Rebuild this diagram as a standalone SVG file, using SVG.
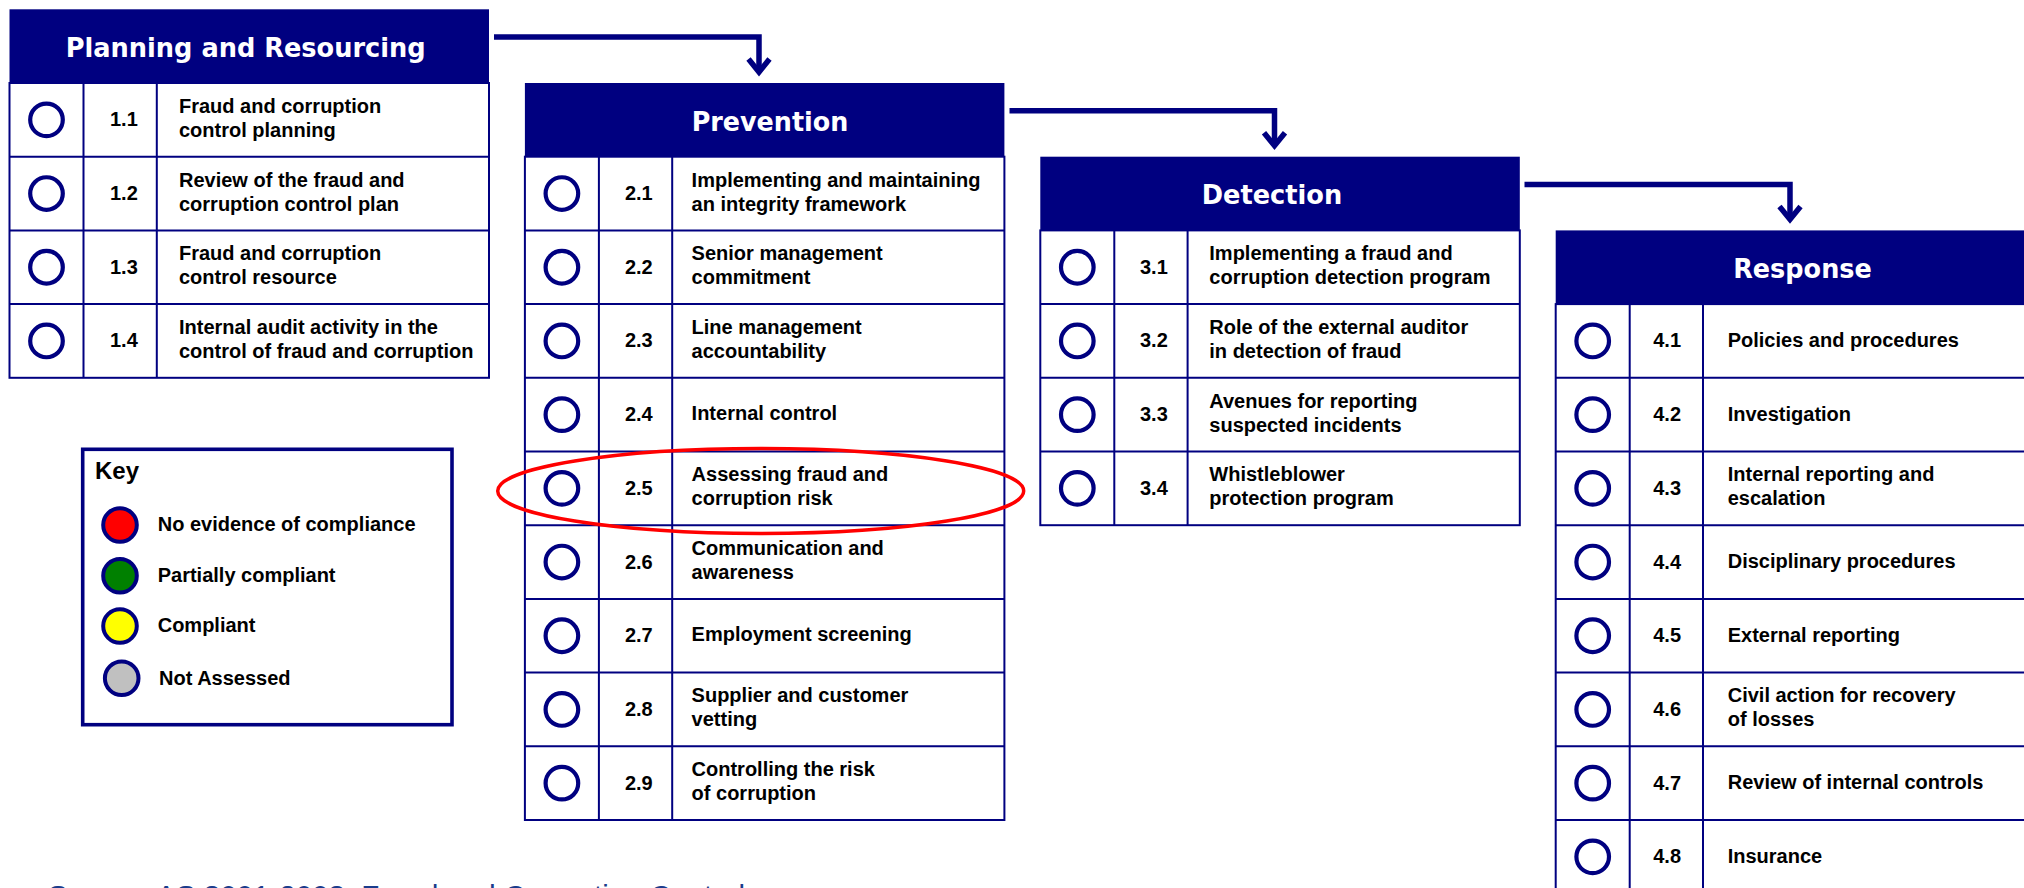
<svg xmlns="http://www.w3.org/2000/svg" width="2024" height="888" viewBox="0 0 2024 888">
  <defs>
    <style>
      .hdr { fill: #000080; }
      .grid { fill: none; stroke: #000080; stroke-width: 2; }
      .dot { fill: none; stroke: #000080; stroke-width: 4.2; }
      .title { font-family: "DejaVu Sans", Verdana, sans-serif; font-weight: bold; font-size: 27px; fill: #ffffff; text-anchor: middle; }
      .num, .lbl { font-family: "Liberation Sans", Arial, sans-serif; font-weight: bold; font-size: 20px; fill: #000000; }
      .keyttl { font-family: "Liberation Sans", Arial, sans-serif; font-weight: bold; font-size: 24px; fill: #000000; }
      .keyframe { fill: #ffffff; stroke: #000080; stroke-width: 3.6; }
      .swatch { stroke: #000080; stroke-width: 4; }
      .flow { fill: none; stroke: #000080; stroke-width: 5.5; }
      .src { font-family: "Liberation Sans", Arial, sans-serif; font-size: 29.5px; fill: #1A3C8C; }
    </style>
    <marker id="chevron" markerUnits="userSpaceOnUse" viewBox="-20 -15 25 30" markerWidth="25" markerHeight="30" refX="0" refY="0" orient="auto" overflow="visible">
      <path d="M-13,-10.5 L0,0 L-13,10.5" fill="none" stroke="#000080" stroke-width="5.5" stroke-linejoin="miter"/>
    </marker>
  </defs>

  <rect x="0" y="0" width="2024" height="888" fill="#ffffff"/>

  <!-- stage 1 -->
  <g id="planning" transform="translate(9.5,9.3)">
    <rect class="hdr" x="0" y="0" width="479.5" height="73.7"/>
    <text class="title" x="236.2" y="47.5" textLength="360" lengthAdjust="spacingAndGlyphs">Planning and Resourcing</text>
    <rect class="grid" x="0" y="73.7" width="479.5" height="294.8"/>
    <path class="grid" d="M0,147.4 H479.5 M0,221.1 H479.5 M0,294.8 H479.5 M74,73.7 V368.5 M147.3,73.7 V368.5"/>
    <circle class="dot" cx="37" cy="110.55" r="16.3"/>
    <circle class="dot" cx="37" cy="184.25" r="16.3"/>
    <circle class="dot" cx="37" cy="257.95" r="16.3"/>
    <circle class="dot" cx="37" cy="331.65" r="16.3"/>
    <text class="num" x="100.5" y="117.05">1.1</text>
    <text class="num" x="100.5" y="190.75">1.2</text>
    <text class="num" x="100.5" y="264.45">1.3</text>
    <text class="num" x="100.5" y="338.15">1.4</text>
    <text class="lbl" x="169.5" y="103.55">Fraud and corruption<tspan x="169.5" dy="24">control planning</tspan></text>
    <text class="lbl" x="169.5" y="177.25">Review of the fraud and<tspan x="169.5" dy="24">corruption control plan</tspan></text>
    <text class="lbl" x="169.5" y="250.95">Fraud and corruption<tspan x="169.5" dy="24">control resource</tspan></text>
    <text class="lbl" x="169.5" y="324.65">Internal audit activity in the<tspan x="169.5" dy="24">control of fraud and corruption</tspan></text>
  </g>

  <!-- stage 2 -->
  <g id="prevention" transform="translate(524.9,83)">
    <rect class="hdr" x="0" y="0" width="479.5" height="73.7"/>
    <text class="title" x="245.1" y="47.5" textLength="156.7" lengthAdjust="spacingAndGlyphs">Prevention</text>
    <rect class="grid" x="0" y="73.7" width="479.5" height="663.3"/>
    <path class="grid" d="M0,147.4 H479.5 M0,221.1 H479.5 M0,294.8 H479.5 M0,368.5 H479.5 M0,442.2 H479.5 M0,515.9 H479.5 M0,589.6 H479.5 M0,663.3 H479.5 M74,73.7 V737 M147.3,73.7 V737"/>
    <circle class="dot" cx="37" cy="110.55" r="16.3"/>
    <circle class="dot" cx="37" cy="184.25" r="16.3"/>
    <circle class="dot" cx="37" cy="257.95" r="16.3"/>
    <circle class="dot" cx="37" cy="331.65" r="16.3"/>
    <circle class="dot" cx="37" cy="405.35" r="16.3"/>
    <circle class="dot" cx="37" cy="479.05" r="16.3"/>
    <circle class="dot" cx="37" cy="552.75" r="16.3"/>
    <circle class="dot" cx="37" cy="626.45" r="16.3"/>
    <circle class="dot" cx="37" cy="700.15" r="16.3"/>
    <text class="num" x="100" y="117.05">2.1</text>
    <text class="num" x="100" y="190.75">2.2</text>
    <text class="num" x="100" y="264.45">2.3</text>
    <text class="num" x="100" y="338.15">2.4</text>
    <text class="num" x="100" y="411.85">2.5</text>
    <text class="num" x="100" y="485.55">2.6</text>
    <text class="num" x="100" y="559.25">2.7</text>
    <text class="num" x="100" y="632.95">2.8</text>
    <text class="num" x="100" y="706.65">2.9</text>
    <text class="lbl" x="166.7" y="103.55">Implementing and maintaining<tspan x="166.7" dy="24">an integrity framework</tspan></text>
    <text class="lbl" x="166.7" y="177.25">Senior management<tspan x="166.7" dy="24">commitment</tspan></text>
    <text class="lbl" x="166.7" y="250.95">Line management<tspan x="166.7" dy="24">accountability</tspan></text>
    <text class="lbl" x="166.7" y="337.15">Internal control</text>
    <text class="lbl" x="166.7" y="398.35">Assessing fraud and<tspan x="166.7" dy="24">corruption risk</tspan></text>
    <text class="lbl" x="166.7" y="472.05">Communication and<tspan x="166.7" dy="24">awareness</tspan></text>
    <text class="lbl" x="166.7" y="558.25">Employment screening</text>
    <text class="lbl" x="166.7" y="619.45">Supplier and customer<tspan x="166.7" dy="24">vetting</tspan></text>
    <text class="lbl" x="166.7" y="693.15">Controlling the risk<tspan x="166.7" dy="24">of corruption</tspan></text>
  </g>

  <!-- stage 3 -->
  <g id="detection" transform="translate(1040.3,156.7)">
    <rect class="hdr" x="0" y="0" width="479.5" height="73.7"/>
    <text class="title" x="231.7" y="47.5" textLength="140.5" lengthAdjust="spacingAndGlyphs">Detection</text>
    <rect class="grid" x="0" y="73.7" width="479.5" height="294.8"/>
    <path class="grid" d="M0,147.4 H479.5 M0,221.1 H479.5 M0,294.8 H479.5 M74,73.7 V368.5 M147.3,73.7 V368.5"/>
    <circle class="dot" cx="37" cy="110.55" r="16.3"/>
    <circle class="dot" cx="37" cy="184.25" r="16.3"/>
    <circle class="dot" cx="37" cy="257.95" r="16.3"/>
    <circle class="dot" cx="37" cy="331.65" r="16.3"/>
    <text class="num" x="99.7" y="117.05">3.1</text>
    <text class="num" x="99.7" y="190.75">3.2</text>
    <text class="num" x="99.7" y="264.45">3.3</text>
    <text class="num" x="99.7" y="338.15">3.4</text>
    <text class="lbl" x="169" y="103.55">Implementing a fraud and<tspan x="169" dy="24">corruption detection program</tspan></text>
    <text class="lbl" x="169" y="177.25">Role of the external auditor<tspan x="169" dy="24">in detection of fraud</tspan></text>
    <text class="lbl" x="169" y="250.95">Avenues for reporting<tspan x="169" dy="24">suspected incidents</tspan></text>
    <text class="lbl" x="169" y="324.65">Whistleblower<tspan x="169" dy="24">protection program</tspan></text>
  </g>

  <!-- stage 4 -->
  <g id="response" transform="translate(1555.7,230.4)">
    <rect class="hdr" x="0" y="0" width="479.5" height="73.7"/>
    <text class="title" x="246.8" y="48" textLength="138.7" lengthAdjust="spacingAndGlyphs">Response</text>
    <rect class="grid" x="0" y="73.7" width="479.5" height="589.6"/>
    <path class="grid" d="M0,147.4 H479.5 M0,221.1 H479.5 M0,294.8 H479.5 M0,368.5 H479.5 M0,442.2 H479.5 M0,515.9 H479.5 M0,589.6 H479.5 M74,73.7 V663.3 M147.3,73.7 V663.3"/>
    <circle class="dot" cx="37" cy="110.55" r="16.3"/>
    <circle class="dot" cx="37" cy="184.25" r="16.3"/>
    <circle class="dot" cx="37" cy="257.95" r="16.3"/>
    <circle class="dot" cx="37" cy="331.65" r="16.3"/>
    <circle class="dot" cx="37" cy="405.35" r="16.3"/>
    <circle class="dot" cx="37" cy="479.05" r="16.3"/>
    <circle class="dot" cx="37" cy="552.75" r="16.3"/>
    <circle class="dot" cx="37" cy="626.45" r="16.3"/>
    <text class="num" x="97.5" y="117.05">4.1</text>
    <text class="num" x="97.5" y="190.75">4.2</text>
    <text class="num" x="97.5" y="264.45">4.3</text>
    <text class="num" x="97.5" y="338.15">4.4</text>
    <text class="num" x="97.5" y="411.85">4.5</text>
    <text class="num" x="97.5" y="485.55">4.6</text>
    <text class="num" x="97.5" y="559.25">4.7</text>
    <text class="num" x="97.5" y="632.95">4.8</text>
    <text class="lbl" x="172" y="116.55">Policies and procedures</text>
    <text class="lbl" x="172" y="190.25">Investigation</text>
    <text class="lbl" x="172" y="250.95">Internal reporting and<tspan x="172" dy="24">escalation</tspan></text>
    <text class="lbl" x="172" y="337.65">Disciplinary procedures</text>
    <text class="lbl" x="172" y="411.35">External reporting</text>
    <text class="lbl" x="172" y="472.05">Civil action for recovery<tspan x="172" dy="24">of losses</tspan></text>
    <text class="lbl" x="172" y="558.75">Review of internal controls</text>
    <text class="lbl" x="172" y="632.45">Insurance</text>
  </g>

  <!-- stage-to-stage flow -->
  <g id="connectors">
    <path class="flow" d="M494,37 H759 V72" marker-end="url(#chevron)"/>
    <path class="flow" d="M1009.5,110.7 H1274.5 V145.7" marker-end="url(#chevron)"/>
    <path class="flow" d="M1524.5,184.4 H1790 V219.4" marker-end="url(#chevron)"/>
  </g>

  <!-- highlight on item 2.5 -->
  <g id="highlight">
    <ellipse cx="760.7" cy="491" rx="263" ry="42.5" fill="none" stroke="#FF0000" stroke-width="3.5"/>
  </g>

  <!-- legend -->
  <g id="key">
    <rect class="keyframe" x="82.7" y="449.3" width="369.3" height="275.4"/>
    <text class="keyttl" x="95" y="479">Key</text>
    <circle class="swatch" cx="120" cy="525" r="16.8" fill="#FF0000"/>
    <circle class="swatch" cx="120" cy="575.7" r="16.8" fill="#008000"/>
    <circle class="swatch" cx="120" cy="626" r="16.8" fill="#FFFF00"/>
    <circle class="swatch" cx="121.7" cy="678.3" r="16.8" fill="#C0C0C0"/>
    <text class="lbl" x="157.7" y="530.7">No evidence of compliance</text>
    <text class="lbl" x="157.7" y="581.7">Partially compliant</text>
    <text class="lbl" x="157.7" y="631.7">Compliant</text>
    <text class="lbl" x="159" y="685">Not Assessed</text>
  </g>

  <g id="source">
    <text class="src" x="48" y="906">Source: AS 8001-2008, Fraud and Corruption Control</text>
  </g>
</svg>
